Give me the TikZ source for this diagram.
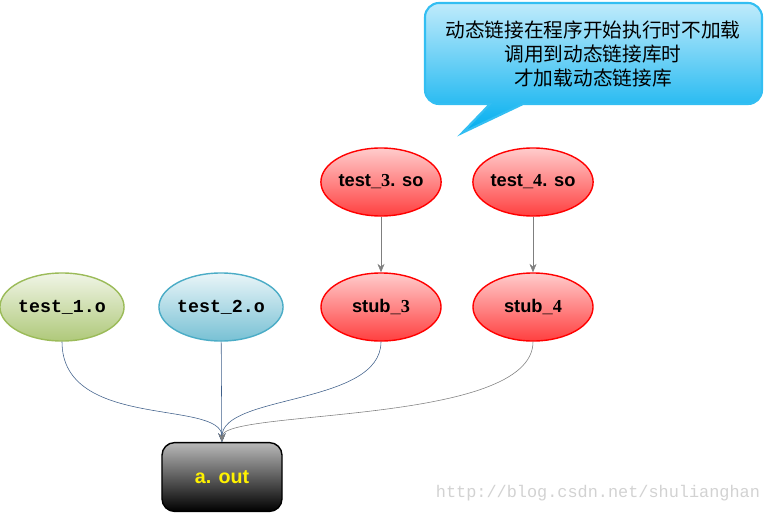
\documentclass[tikz,border=0pt]{standalone}
\usepackage{fontspec}
\setsansfont{Liberation Sans}
\setmonofont{Liberation Mono}
\newfontfamily\cjk{Noto Sans CJK SC}
\newfontfamily\digitfont{Liberation Serif}
\usetikzlibrary{arrows.meta,shapes.geometric}
\definecolor{greenedge}{HTML}{9BBB59}
\definecolor{blueedge}{HTML}{4BACC6}
\definecolor{linkblue}{HTML}{3F5F8A}
\definecolor{linkgray}{HTML}{7F7F7F}
\definecolor{notefill}{HTML}{00AEEF}
\begin{document}
\begin{tikzpicture}[x=0.025cm,y=-0.025cm,
  obj/.style={ellipse,minimum width=3cm,minimum height=1.7cm,inner sep=0pt,line width=1pt,
    font=\fontsize{13}{15}\selectfont\bfseries},
  greenobj/.style={obj,draw=greenedge,top color=greenedge!15,middle color=greenedge!55,bottom color=greenedge!80,font=\fontsize{13}{15}\selectfont\ttfamily\bfseries},
  blueobj/.style={obj,draw=blueedge,top color=blueedge!12,middle color=blueedge!55,bottom color=blueedge!75,font=\fontsize{13}{15}\selectfont\ttfamily\bfseries},
  redobj/.style={obj,draw=red,top color=red!20,middle color=red!65,bottom color=red!75,font=\fontsize{13}{15}\selectfont\sffamily\bfseries},
  link/.style={draw=linkblue,-{Stealth[length=6pt,width=5pt]}},
  glink/.style={draw=linkgray,-{Stealth[length=6pt,width=5pt]}}]
\useasboundingbox (0,0) rectangle (766,513);
\shade[top color=notefill!25,middle color=notefill!90,bottom color=notefill,draw=notefill!80,line width=1.5pt]
  (490,104) [rounded corners=10pt] -- (425,104) -- (425,3) -- (762,3) -- (762,104) [sharp corners] -- (523,104) -- (462,133) -- cycle;
\node[align=center,font=\fontsize{14}{17}\selectfont\cjk] (note) at (593,54)
  {动态链接在程序开始执行时不加载\\调用到动态链接库时\\才加载动态链接库};
\node[greenobj] (t1) at (62,307) {test\_1.o};
\node[blueobj] (t2) at (221,307) {test\_2.o};
\node[redobj] (t3) at (381,182) {test\_{\digitfont 3}. so};
\node[redobj] (t4) at (533,182) {test\_{\digitfont 4}. so};
\node[redobj] (s3) at (381,307) {stub\_{\digitfont 3}};
\node[redobj] (s4) at (533,307) {stub\_{\digitfont 4}};
\node[rectangle,rounded corners=9pt,minimum width=3cm,minimum height=1.72cm,draw=black,line width=1pt,
  top color=gray!55,middle color=black!70,bottom color=black,text=yellow,font=\fontsize{14}{16}\selectfont\sffamily\bfseries] (aout) at (222,477) {a. out};
\draw[glink] (t3) -- (s3);
\draw[glink] (t4) -- (s4);
\draw[link] (t2) -- (aout);
\draw[link] (t1.south) .. controls +(0,89) and +(0,-43) .. (aout.north);
\draw[link] (s3.south) .. controls +(0,64) and +(0,-48) .. (aout.north);
\draw[glink] (s4.south) .. controls +(0,84) and +(0,-33) .. (aout.north);
\node[font=\fontsize{12}{14}\selectfont\ttfamily,text=gray!35] (mark) at (598,493) {http://blog.csdn.net/shulianghan};
\end{tikzpicture}
\end{document}
